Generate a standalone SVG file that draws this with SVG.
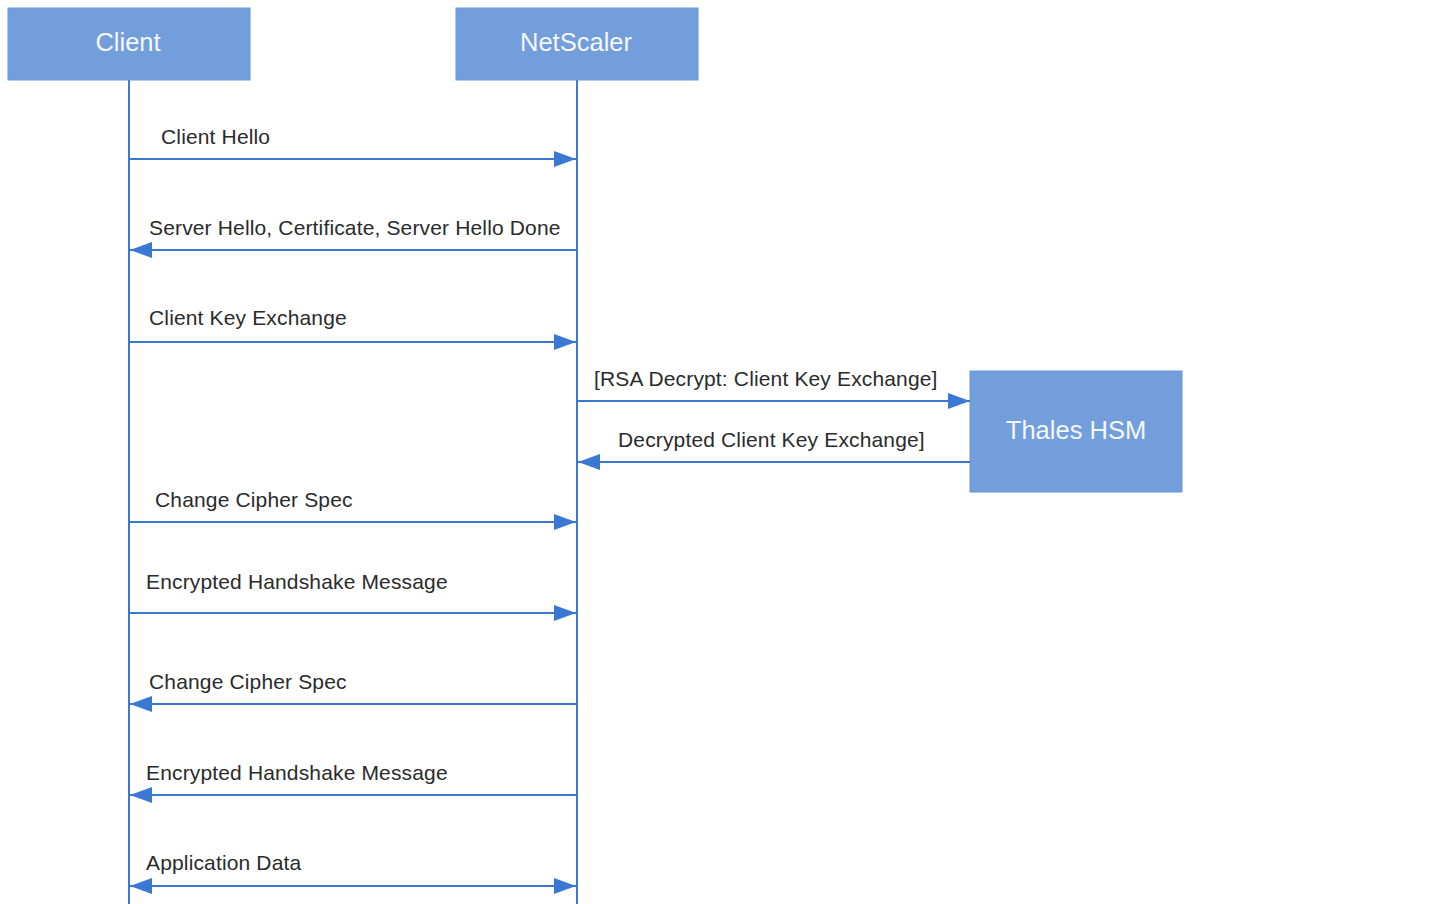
<svg xmlns="http://www.w3.org/2000/svg" width="1438" height="904" viewBox="0 0 1438 904">
<style>
.box{fill:#729fdb;stroke:#6b9ad8;stroke-width:1}
.bt{font-family:"Liberation Sans",Arial,sans-serif;font-size:25.5px;fill:#f4f7fc;text-anchor:middle}
.lbl{font-family:"Liberation Sans",Arial,sans-serif;font-size:21px;letter-spacing:0.15px;fill:#2b2b2b}
.ln{stroke:#3a78d4;stroke-width:2;fill:none}
.msg{stroke:#3a78d4;stroke-width:2;fill:none}
</style>
<defs>
<marker id="ah" markerWidth="22" markerHeight="16" refX="22" refY="8" orient="auto" markerUnits="userSpaceOnUse">
<path d="M0,0 L22,8 L0,16 Z" fill="#3a78d4"/>
</marker>
<marker id="ahs" markerWidth="22" markerHeight="16" refX="0" refY="8" orient="auto" markerUnits="userSpaceOnUse">
<path d="M22,0 L0,8 L22,16 Z" fill="#3a78d4"/>
</marker>
</defs>
<rect width="1438" height="904" fill="#ffffff"/>
<g id="lifelines">
<line class="ln" x1="129" y1="80" x2="129" y2="904"/>
<line class="ln" x1="577" y1="80" x2="577" y2="904"/>
</g>
<g id="client">
<rect class="box" x="8" y="8" width="242" height="72"/>
<text class="bt" x="128" y="51">Client</text>
</g>
<g id="netscaler">
<rect class="box" x="456" y="8" width="242" height="72"/>
<text class="bt" x="576" y="51">NetScaler</text>
</g>
<g id="hsm">
<rect class="box" x="970" y="371" width="212" height="121"/>
<text class="bt" x="1076" y="439">Thales HSM</text>
</g>
<g id="connectors">
<line class="msg" x1="129" y1="159" x2="576" y2="159" marker-end="url(#ah)"/>
<line class="msg" x1="577" y1="250" x2="130" y2="250" marker-end="url(#ah)"/>
<line class="msg" x1="129" y1="342" x2="576" y2="342" marker-end="url(#ah)"/>
<line class="msg" x1="577" y1="401" x2="970" y2="401" marker-end="url(#ah)"/>
<line class="msg" x1="970" y1="462" x2="578" y2="462" marker-end="url(#ah)"/>
<line class="msg" x1="129" y1="522" x2="576" y2="522" marker-end="url(#ah)"/>
<line class="msg" x1="129" y1="613" x2="576" y2="613" marker-end="url(#ah)"/>
<line class="msg" x1="577" y1="704" x2="130" y2="704" marker-end="url(#ah)"/>
<line class="msg" x1="577" y1="795" x2="130" y2="795" marker-end="url(#ah)"/>
<line class="msg" x1="130" y1="886" x2="576" y2="886" marker-start="url(#ahs)" marker-end="url(#ah)"/>
</g>
<g id="labels">
<text class="lbl" x="161" y="144">Client Hello</text>
<text class="lbl" x="149" y="235">Server Hello, Certificate, Server Hello Done</text>
<text class="lbl" x="149" y="325">Client Key Exchange</text>
<text class="lbl" x="594" y="386">[RSA Decrypt: Client Key Exchange]</text>
<text class="lbl" x="618" y="447">Decrypted Client Key Exchange]</text>
<text class="lbl" x="155" y="507">Change Cipher Spec</text>
<text class="lbl" x="146" y="589">Encrypted Handshake Message</text>
<text class="lbl" x="149" y="689">Change Cipher Spec</text>
<text class="lbl" x="146" y="780">Encrypted Handshake Message</text>
<text class="lbl" x="146" y="870">Application Data</text>
</g>
</svg>
